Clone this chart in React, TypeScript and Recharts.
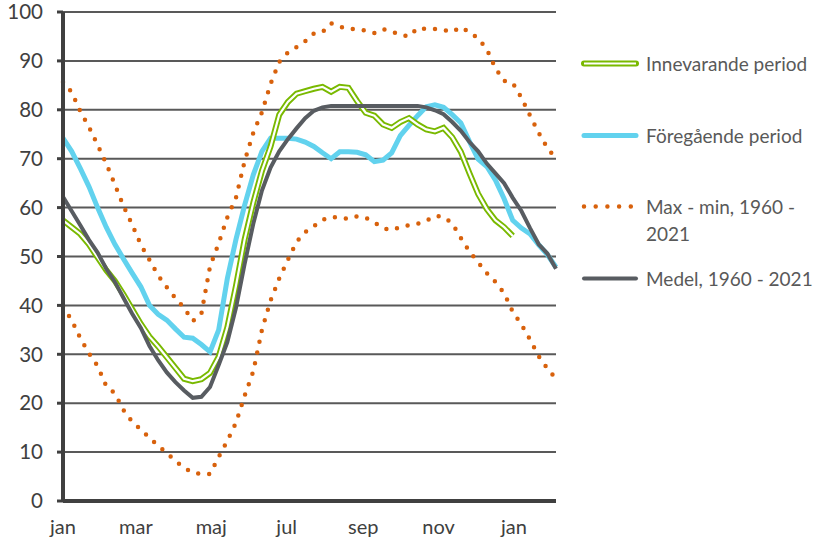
import { CartesianGrid, Line, LineChart, XAxis, YAxis } from 'recharts';

// weekly values, week 0 = start of january
const innevarande = [
    57.4, 56, 54.6, 52.5, 49.8, 47.2, 45, 42.2, 39.2, 36.2, 33.6, 31.6, 29.4, 27.2, 25, 24.5, 24.9, 26.2, 29.5,
    35.5, 44, 53.5, 61, 67.5, 72.5, 79, 81.6, 83.3, 83.8, 84.3, 84.7, 83.7, 84.7, 84.5, 81.8, 79.4, 78.8, 77,
    76.3, 77.5, 78.3, 77, 76, 75.6, 76.3, 74.4, 71.4, 67, 62.8, 59.7, 57.4, 56, 54.2,
];
const foregaende = [
    74.2, 71.5, 68, 64.3, 60, 56, 52.5, 49.5, 46.6, 43.8, 40, 38.2, 37, 35.2, 33.5, 33.3, 32, 30.5, 35, 45.5,
    53.5, 60.5, 66.7, 71.5, 74.2, 74.2, 74.2, 74, 73.4, 72.5, 71.2, 70, 71.4, 71.4, 71.3, 70.8, 69.4, 69.7,
    71.2, 74.7, 76.8, 78.8, 80.6, 81, 80.5, 79, 77.3, 73.5, 69.9, 68.4, 65.6, 61.8, 57.4, 55.8, 54.6, 52.4,
    50.4, 47.8,
];
const maxVarde = [
    85.7, 83.6, 79.7, 76.5, 72.8, 69, 64.7, 60.3, 56.5, 52.4, 49.3, 46.1, 43.7, 41.5, 39.5, 36.8, 38.3, 48,
    52.7, 58, 62, 69.5, 75.3, 79.5, 85.3, 89.8, 91.7, 92.8, 94, 95.6, 95.9, 97.7, 97, 96.6, 96.4, 96.2, 95.7,
    96.5, 96, 95.3, 95, 96.7, 96.5, 96.5, 96.3, 95.9, 96.9, 95.9, 94.6, 92.4, 88.5, 85.9, 85.5, 82.5, 78.8,
    75.3, 72.2, 70,
];
const minVarde = [
    39.7, 37, 33.3, 30.2, 27.6, 23.5, 22, 18.6, 16.2, 14.6, 12.9, 11.3, 9.8, 8.2, 6.8, 5.8, 5.5, 5.5, 9, 12.3,
    16, 21.5, 26.5, 35, 41, 45.5, 49.3, 53, 55, 56.2, 57.5, 58.1, 57.9, 57.7, 58.2, 57.9, 57, 55.8, 55.4, 56,
    56.4, 56.7, 57.3, 58.3, 58.1, 56.8, 53.8, 51, 48.8, 46.6, 44.8, 42.5, 38.7, 36.1, 33, 29.6, 27.1, 25,
];
const medel = [
    62.2, 59.3, 56.4, 53.4, 50.8, 47.5, 44.8, 41.5, 38.3, 35.4, 31.7, 28.8, 26.3, 24.3, 22.6, 21.1, 21.3, 23.3,
    27.8, 32.5, 39.5, 48.5, 56.7, 63.5, 68.2, 71.5, 74, 76.2, 78.3, 79.8, 80.5, 80.8, 80.8, 80.8, 80.8, 80.8,
    80.8, 80.8, 80.8, 80.8, 80.8, 80.8, 80.5, 79.9, 79.1, 77.5, 75.7, 73.4, 71.5, 69, 67, 65, 62, 59.3, 55.8,
    52.5, 50.6, 47.5,
];

const monthTicks = [0, 8.43, 17.14, 25.86, 34.71, 43.43, 52.14];
const monthLabels = ['jan', 'mar', 'maj', 'jul', 'sep', 'nov', 'jan'];
const yTicks = [0, 10, 20, 30, 40, 50, 60, 70, 80, 90, 100];

const GREEN = '#79B900';
const BLUE = '#62D2EE';
const ORANGE = '#D8610C';
const DARK = '#585C61';
const FONT = 'Lato, "Open Sans", sans-serif';

const data = maxVarde.map((_, w) => ({
    w,
    inne: innevarande[w] ?? null,
    fore: foregaende[w],
    max: maxVarde[w],
    min: minVarde[w],
    medel: medel[w],
}));

const legendItems = [
    { key: 'inne', lines: ['Innevarande period'], top: 49.5 },
    { key: 'fore', lines: ['Föregående period'], top: 121.5 },
    { key: 'maxmin', lines: ['Max - min, 1960 -', '2021'], top: 192.5 },
    { key: 'medel', lines: ['Medel, 1960 - 2021'], top: 264.5 },
];

const LegendSample = ({ kind }: { kind: string }) => (
    <svg width={60} height={27} style={{ display: 'block' }}>
        {kind === 'inne' && (
            <>
                <line x1={4} x2={56} y1={13.5} y2={13.5} stroke={GREEN} strokeWidth={6} strokeLinecap="round" />
                <line x1={4} x2={56} y1={13.5} y2={13.5} stroke="#fff" strokeWidth={2.2} />
            </>
        )}
        {kind === 'fore' && (
            <line x1={4} x2={56} y1={13.5} y2={13.5} stroke={BLUE} strokeWidth={5} strokeLinecap="round" />
        )}
        {kind === 'maxmin' && (
            <line
                x1={4}
                x2={56}
                y1={13.5}
                y2={13.5}
                stroke={ORANGE}
                strokeWidth={4.5}
                strokeDasharray="0 11.7"
                strokeLinecap="round"
            />
        )}
        {kind === 'medel' && (
            <line x1={4} x2={56} y1={13.5} y2={13.5} stroke={DARK} strokeWidth={4} strokeLinecap="round" />
        )}
    </svg>
);

const App = () => {
    return (
        <div style={{ position: 'absolute', left: 0, top: 0, width: 815, height: 541, background: '#fff' }}>
            <LineChart width={815} height={541} data={data} margin={{ top: 12, right: 259, bottom: 0, left: 0 }}>
                <CartesianGrid horizontal vertical={false} stroke="#595959" strokeWidth={2} />
                <XAxis
                    dataKey="w"
                    type="number"
                    domain={[0, 57]}
                    ticks={monthTicks}
                    tickFormatter={(v: number) => monthLabels[monthTicks.indexOf(v)] ?? ''}
                    interval={0}
                    height={40}
                    tickLine={false}
                    tickMargin={13}
                    axisLine={{ stroke: '#404040', strokeWidth: 4 }}
                    tick={{ fill: '#404040', fontSize: 20, fontFamily: FONT }}
                />
                <YAxis
                    domain={[0, 100]}
                    ticks={yTicks}
                    interval={0}
                    width={63}
                    tickSize={6}
                    tickMargin={14}
                    tickLine={{ stroke: '#404040', strokeWidth: 3 }}
                    axisLine={{ stroke: '#404040', strokeWidth: 4 }}
                    tick={{ fill: '#404040', fontSize: 20.5, fontFamily: FONT }}
                />
                <Line
                    dataKey="max"
                    stroke={ORANGE}
                    strokeWidth={4.5}
                    strokeDasharray="0 11"
                    strokeLinecap="round"
                    dot={false}
                    isAnimationActive={false}
                />
                <Line
                    dataKey="min"
                    stroke={ORANGE}
                    strokeWidth={4.5}
                    strokeDasharray="0 11"
                    strokeLinecap="round"
                    dot={false}
                    isAnimationActive={false}
                />
                <Line dataKey="fore" stroke={BLUE} strokeWidth={5} dot={false} isAnimationActive={false} />
                <Line dataKey="inne" stroke={GREEN} strokeWidth={6} dot={false} isAnimationActive={false} />
                <Line dataKey="inne" stroke="#fff" strokeWidth={2.2} dot={false} isAnimationActive={false} />
                <Line dataKey="medel" stroke={DARK} strokeWidth={4} dot={false} isAnimationActive={false} />
            </LineChart>
            <div style={{ position: 'absolute', left: 580, top: 0, fontFamily: FONT, fontSize: 19, color: '#595959' }}>
                {legendItems.map((item) => (
                    <div key={item.key} style={{ position: 'absolute', top: item.top, left: 0, display: 'flex', whiteSpace: 'nowrap' }}>
                        <LegendSample kind={item.key} />
                        <div style={{ marginLeft: 6, lineHeight: '27px' }}>
                            {item.lines.map((l) => (
                                <div key={l}>{l}</div>
                            ))}
                        </div>
                    </div>
                ))}
            </div>
        </div>
    );
};

export default App;
